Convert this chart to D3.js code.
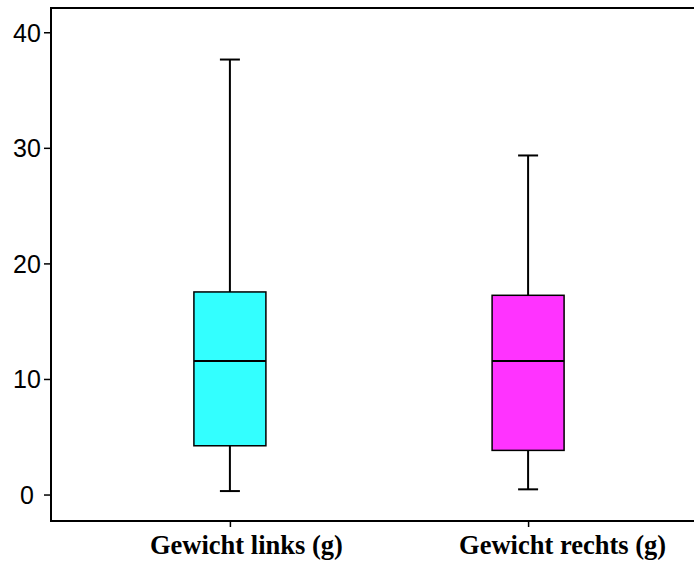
<!DOCTYPE html>
<html>
<head>
<meta charset="utf-8">
<script src="https://cdn.jsdelivr.net/npm/d3@7"></script>
<style>
  html, body { margin: 0; padding: 0; background: #fff; overflow: hidden; }
  svg { display: block; }
</style>
</head>
<body>
<div id="app"></div>
<script>
// data
const categories = ['Gewicht links (g)', 'Gewicht rechts (g)']
const whiskerLow = [0.30, 0.45]
const q1 = [4.22, 3.82]
const median = [11.56, 11.56]
const q3 = [17.53, 17.24]
const whiskerHigh = [37.64, 29.34]
const fills = ['#33ffff', '#ff33ff']
const yTicks = [0, 10, 20, 30, 40]

const w = 694
const h = 562
const padLeft = 51, padTop = 8, plotBottom = 521, plotRight = 707

const svg = d3.select('#app')
              .append('svg')
              .attr('width', w)
              .attr('height', h)

const yScale = d3.scaleLinear()
                 .domain([-2.29, 42.1])
                 .range([plotBottom, padTop])

const xScale = d3.scalePoint()
                 .domain(categories)
                 .range([padLeft, plotRight])
                 .padding(0.6)

const boxes = categories.map((c, i) => ({
  cat: c, lo: whiskerLow[i], q1: q1[i], med: median[i], q3: q3[i], hi: whiskerHigh[i], fill: fills[i]
}))

// frame: left, top and bottom only (the right side runs off the page)
svg.append('line')
   .attr('x1', padLeft).attr('x2', w + 10)
   .attr('y1', padTop).attr('y2', padTop)
   .attr('stroke', '#000').attr('stroke-width', 2)
svg.append('line')
   .attr('x1', padLeft).attr('x2', w + 10)
   .attr('y1', plotBottom).attr('y2', plotBottom)
   .attr('stroke', '#000').attr('stroke-width', 2)
svg.append('line')
   .attr('x1', padLeft).attr('x2', padLeft)
   .attr('y1', padTop - 1).attr('y2', plotBottom + 1)
   .attr('stroke', '#000').attr('stroke-width', 2)

// y axis
const yAxis = d3.axisLeft(yScale)
                .tickValues(yTicks)
                .tickSize(7)
                .tickPadding(0)
const gy = svg.append('g')
              .attr('transform', 'translate(' + padLeft + ',0)')
              .call(yAxis)
gy.select('.domain').remove()
gy.selectAll('line').attr('stroke', '#000').attr('stroke-width', 1.5)
gy.selectAll('text')
  .attr('x', 27 - padLeft)
  .attr('text-anchor', 'middle')
  .attr('dy', '0.36em')
  .style('font-family', '"Liberation Sans", Arial, sans-serif')
  .style('font-size', '25px')
  .attr('fill', '#000')

// x axis
const xAxis = d3.axisBottom(xScale)
                .tickSize(6)
                .tickPadding(10)
const gx = svg.append('g')
              .attr('transform', 'translate(0,' + plotBottom + ')')
              .call(xAxis)
gx.select('.domain').remove()
gx.selectAll('line').attr('stroke', '#000').attr('stroke-width', 1.5)
// the labels sit a little right of their ticks in the original
const labelShift = [16, 34]
gx.selectAll('text')
  .attr('y', 33)
  .attr('dy', 0)
  .attr('dx', (d, i) => labelShift[i])
  .style('font-family', '"Liberation Serif", "Times New Roman", serif')
  .style('font-weight', 'bold')
  .style('font-size', '26.5px')
  .attr('fill', '#000')

// box plots
const boxW = 72
const capW = 20
const g = svg.selectAll('.box')
             .data(boxes)
             .enter()
             .append('g')
             .attr('class', 'box')

g.append('line')
 .attr('x1', d => xScale(d.cat))
 .attr('x2', d => xScale(d.cat))
 .attr('y1', d => yScale(d.hi))
 .attr('y2', d => yScale(d.lo))
 .attr('stroke', '#000')
 .attr('stroke-width', 2)

g.selectAll('.cap')
 .data(d => [d.hi, d.lo].map(v => ({ cat: d.cat, v: v })))
 .enter()
 .append('line')
 .attr('class', 'cap')
 .attr('x1', d => xScale(d.cat) - capW / 2)
 .attr('x2', d => xScale(d.cat) + capW / 2)
 .attr('y1', d => yScale(d.v))
 .attr('y2', d => yScale(d.v))
 .attr('stroke', '#000')
 .attr('stroke-width', 2)

g.append('rect')
 .attr('x', d => xScale(d.cat) - boxW / 2)
 .attr('y', d => yScale(d.q3))
 .attr('width', boxW)
 .attr('height', d => yScale(d.q1) - yScale(d.q3))
 .attr('fill', d => d.fill)
 .attr('stroke', '#000')
 .attr('stroke-width', 1.5)

g.append('line')
 .attr('x1', d => xScale(d.cat) - boxW / 2)
 .attr('x2', d => xScale(d.cat) + boxW / 2)
 .attr('y1', d => yScale(d.med))
 .attr('y2', d => yScale(d.med))
 .attr('stroke', '#000')
 .attr('stroke-width', 2)
</script>
</body>
</html>
